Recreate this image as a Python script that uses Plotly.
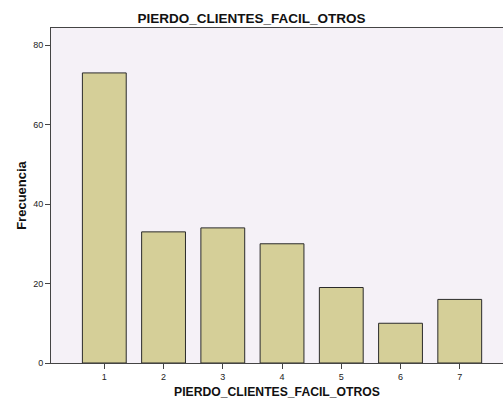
import plotly.graph_objects as go

categorias = [1, 2, 3, 4, 5, 6, 7]
frecuencias = [73, 33, 34, 30, 19, 10, 16]
ticks_y = [0, 20, 40, 60, 80]

fig = go.Figure(
    go.Bar(
        x=categorias,
        y=frecuencias,
        width=0.74,
        marker=dict(color="#D5CF98", line=dict(color="#2b2b2b", width=1)),
    )
)

fig.update_layout(
    width=503,
    height=405,
    margin=dict(l=51, r=0, t=28, b=42),
    paper_bgcolor="white",
    plot_bgcolor="#F5F1F7",
    title=dict(
        text="<b>PIERDO_CLIENTES_FACIL_OTROS</b>",
        x=0.5, xanchor="center", y=0.956, yanchor="middle",
        font=dict(family="Liberation Sans, Arial", size=13.5, color="#111"),
    ),
    showlegend=False,
    font=dict(family="Liberation Sans, Arial", size=9, color="#222"),
)

fig.update_xaxes(
    range=[0.1, 7.73],
    tickvals=categorias,
    ticks="outside", ticklen=5, tickcolor="#444",
    showline=True, linecolor="#444", linewidth=1, mirror=True,
    showgrid=False, zeroline=False,
    title=dict(text="<b>PIERDO_CLIENTES_FACIL_OTROS</b>",
               font=dict(size=12.2, color="#111"), standoff=6),
)

fig.update_yaxes(
    range=[0, 84.3],
    tickvals=ticks_y,
    ticks="outside", ticklen=5, tickcolor="#444",
    showline=True, linecolor="#444", linewidth=1,
    showgrid=False, zeroline=False,
    title=dict(text="<b>Frecuencia</b>", font=dict(size=13, color="#111"), standoff=3),
)

# quitar el margen por defecto del body para que el gráfico llene la ventana
fig.write_html(
    "out.html",
    config={"displayModeBar": False},
    post_script="document.body.style.margin='0';document.body.style.overflow='hidden';",
)
